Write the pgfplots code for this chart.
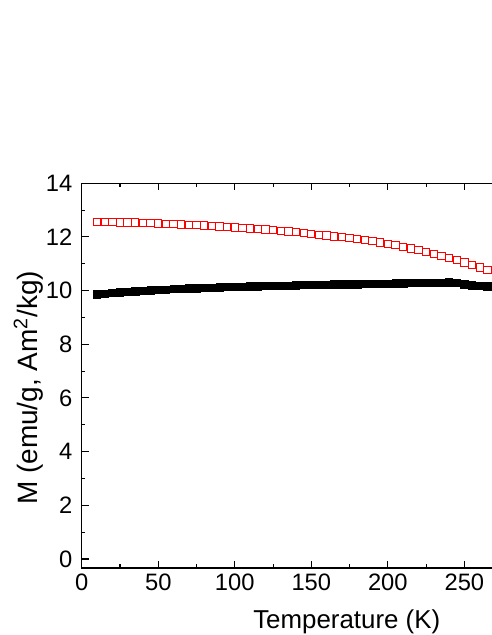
\documentclass[border=0pt]{standalone}
\usepackage{pgfplots}
\pgfplotsset{compat=1.18}
\usepackage{fontspec}
\setmainfont{Liberation Sans}

\pgfplotstableread{
T M
10 12.56
15 12.56
20 12.55
25 12.54
30 12.54
35 12.53
40 12.52
45 12.51
50 12.50
55 12.49
60 12.48
65 12.46
70 12.45
75 12.44
80 12.42
85 12.41
90 12.39
95 12.37
100 12.35
105 12.33
110 12.31
115 12.29
120 12.27
125 12.25
130 12.23
135 12.20
140 12.17
145 12.14
150 12.11
155 12.08
160 12.05
165 12.02
170 11.99
175 11.96
180 11.92
185 11.88
190 11.84
195 11.79
200 11.74
205 11.69
210 11.63
215 11.57
220 11.50
225 11.43
230 11.36
235 11.29
240 11.22
245 11.14
250 11.05
255 10.96
260 10.86
265 10.76
}\fc

\pgfplotstableread{
T M
10 9.86
15 9.89
20 9.92
25 9.94
30 9.96
35 9.98
40 10.00
45 10.01
50 10.03
55 10.04
60 10.06
65 10.07
70 10.08
75 10.09
80 10.10
85 10.11
90 10.12
95 10.13
100 10.14
105 10.15
110 10.16
115 10.16
120 10.17
125 10.18
130 10.19
135 10.19
140 10.20
145 10.21
150 10.21
155 10.22
160 10.22
165 10.23
170 10.23
175 10.24
180 10.24
185 10.25
190 10.25
195 10.26
200 10.26
205 10.27
210 10.27
215 10.28
220 10.28
225 10.29
230 10.29
235 10.30
240 10.31
245 10.30
250 10.24
255 10.20
260 10.18
265 10.16
}\zfc

\begin{document}
\begin{tikzpicture}
\begin{axis}[
    scale only axis,
    width=332.9pt,
    height=288.6pt,
    xmin=0, xmax=290,
    ymin=-0.335, ymax=14,
    xtick={0,50,...,250},
    ytick={0,2,...,14},
    minor x tick num=1,
    minor y tick num=1,
    tick align=inside,
    major tick length=5.2pt,
    minor tick length=2.8pt,
    axis line style={line width=1pt},
    every tick/.style={black, line width=0.8pt},
    /pgf/number format/assume math mode=true,
    tick label style={font=\fontsize{17.8}{20}\selectfont},
    yticklabel style={xshift=-3.5pt},
    xticklabel style={yshift=-1pt},
    xlabel={Temperature (K)},
    ylabel={M (emu/g, Am\textsuperscript{2}/kg)},
    xlabel style={font=\fontsize{19.4}{22}\selectfont, at={(rel axis cs:0.597,0)}, anchor=base, yshift=-45.2pt},
    ylabel style={font=\fontsize{21}{24}\selectfont, at={([xshift=-33.2pt]rel axis cs:0,0.468)}, anchor=base},
]
\addplot[only marks, mark=square*, mark size=2.75pt, black] table[x=T, y=M] {\zfc};
\addplot[only marks, mark=square, mark size=2.75pt, mark options={draw=red, line width=0.75pt, fill=white}] table[x=T, y=M] {\fc};
\coordinate (bl) at (rel axis cs:0,0);
\coordinate (tr) at (axis cs:267.4,14);
\end{axis}
\pgfresetboundingbox
\path[use as bounding box] ([xshift=-61.3pt,yshift=-50.25pt]bl) rectangle ([yshift=137.4pt]tr);
\end{tikzpicture}
\end{document}
